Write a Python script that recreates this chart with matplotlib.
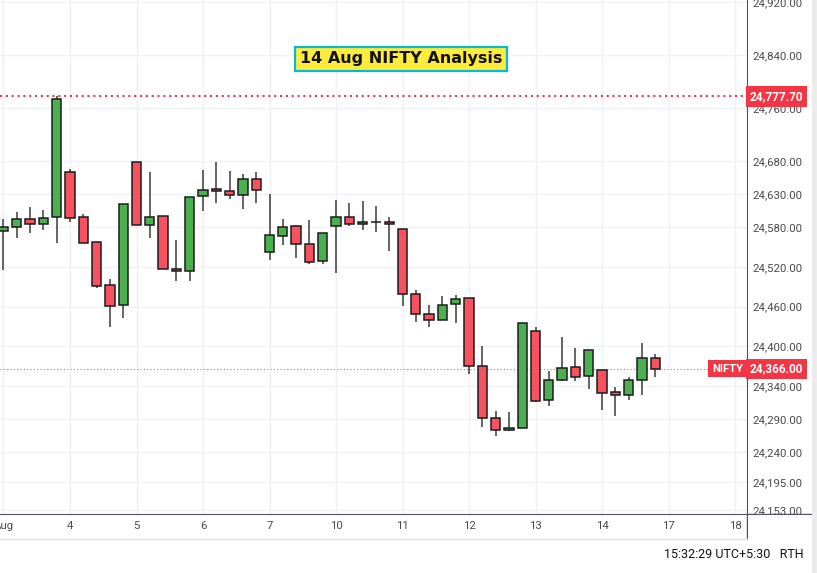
import numpy as np
import matplotlib.pyplot as plt
from matplotlib.lines import Line2D
from matplotlib.patches import Rectangle

# 75 min candles of NIFTY
opens = [24574.7, 24579.8, 24591.9, 24584.3, 24594.9, 24662.9, 24594.9, 24558.1, 24492.7, 24462.9,
         24678.0, 24582.8, 24596.4, 24516.4, 24513.4, 24627.5, 24637.2, 24634.2, 24629.0, 24652.3,
         24542.1, 24566.2, 24581.3, 24554.1, 24528.5, 24581.3, 24594.9, 24584.8, 24588.3, 24588.3,
         24577.3, 24479.1, 24448.4, 24439.8, 24464.3, 24472.6, 24370.4, 24292.3, 24274.2, 24277.2,
         24423.7, 24319.0, 24348.8, 24369.3, 24355.7, 24363.9, 24331.1, 24327.0, 24348.8, 24382.9]
highs = [24592.3, 24603.4, 24610.5, 24605.9, 24777.7, 24667.4, 24599.4, 24558.1, 24501.7, 24615.0,
         24678.0, 24663.3, 24596.4, 24560.2, 24625.1, 24666.3, 24678.4, 24664.8, 24660.3, 24663.3,
         24630.8, 24592.3, 24583.3, 24591.3, 24570.8, 24621.0, 24616.0, 24619.5, 24611.5, 24595.4,
         24577.3, 24485.1, 24462.5, 24476.1, 24477.1, 24472.6, 24400.6, 24302.0, 24300.5, 24435.8,
         24429.3, 24362.8, 24414.2, 24397.1, 24395.0, 24363.9, 24338.2, 24353.3, 24405.6, 24388.5]
lows = [24515.3, 24563.2, 24571.2, 24576.2, 24555.7, 24588.3, 24555.7, 24488.6, 24428.8, 24443.3,
        24582.8, 24563.2, 24516.4, 24499.2, 24499.2, 24604.9, 24616.9, 24623.0, 24607.9, 24616.0,
        24530.4, 24553.5, 24533.0, 24524.0, 24524.0, 24511.3, 24582.2, 24575.3, 24572.7, 24544.5,
        24461.4, 24437.3, 24429.7, 24439.8, 24435.8, 24357.9, 24277.8, 24264.2, 24272.7, 24277.2,
        24315.6, 24310.4, 24347.3, 24348.2, 24336.1, 24303.5, 24295.4, 24318.6, 24326.6, 24353.8]
closes = [24580.7, 24591.9, 24585.2, 24593.4, 24773.0, 24593.9, 24555.7, 24491.6, 24461.4, 24615.0,
          24582.8, 24594.9, 24516.4, 24513.4, 24625.1, 24635.7, 24634.2, 24629.0, 24652.3, 24635.7,
          24567.7, 24579.8, 24554.1, 24527.0, 24570.8, 24594.9, 24584.3, 24588.3, 24588.0, 24584.3,
          24479.1, 24448.4, 24439.8, 24462.0, 24471.1, 24370.4, 24292.3, 24274.2, 24277.2, 24435.8,
          24318.0, 24348.8, 24367.8, 24354.2, 24395.0, 24330.0, 24326.1, 24348.8, 24382.9, 24366.0]

day_pos = [0, 5, 10, 15, 20, 25, 30, 35, 40, 45, 50, 55]
day_labels = ["Aug", "4", "5", "6", "7", "10", "11", "12", "13", "14", "17", "18"]
price_ticks = [24153, 24195, 24240, 24290, 24340, 24400, 24460, 24520, 24580, 24630, 24680, 24760, 24840, 24920]
high_mark = 24777.70
last_price = 24366.00

W, H = 817, 573
fig = plt.figure(figsize=(W / 100, H / 100), dpi=100)
ax = fig.add_axes([0, (H - 514) / H, 747 / W, 514 / H])

green = "#4caf50"
red = "#f7525f"
o = np.array(opens); c = np.array(closes)
x = np.arange(len(o))
cols = [green if cc >= oo else red for oo, cc in zip(o, c)]

ax.vlines(x, lows, highs, color="#3a3a3a", lw=1.1, zorder=2)
hgt = np.maximum(np.abs(c - o), 0.4)
ax.bar(x, hgt, bottom=np.minimum(o, c), width=0.7, color=cols,
       edgecolor="#1c1c1c", linewidth=1.1, zorder=3)

ax.axhline(high_mark, color="#f23645", lw=1.5, dashes=(1, 1.8), zorder=1)
ax.axhline(last_price, color="#e06070", lw=0.8, dashes=(1, 2), zorder=1)

ax.set_xlim(-0.263, 55.9)
ax.set_ylim(24146.9, 24923)
ax.set_xticks(day_pos)
ax.set_xticklabels(day_labels)
ax.set_yticks(price_ticks)
ax.set_yticklabels(["{:,.2f}".format(p) for p in price_ticks])
ax.yaxis.tick_right()
ax.tick_params(axis="y", length=0, pad=4, labelsize=8.2, labelcolor="#4a4a4a")
ax.tick_params(axis="x", length=0, pad=5, labelsize=8.2, labelcolor="#4a4a4a")
for lab in ax.get_xticklabels() + ax.get_yticklabels():
    lab.set_fontfamily("Roboto")
ax.grid(True, color="#eef1f6", lw=1)
ax.set_axisbelow(True)
for s in ["top", "left"]:
    ax.spines[s].set_visible(False)
ax.spines["bottom"].set_color("#50535e")
ax.spines["right"].set_color("#50535e")

# frame lines outside the plot
fig.add_artist(Line2D([747 / W, 1], [(H - 514) / H] * 2, color="#50535e", lw=1))
fig.add_artist(Line2D([747 / W] * 2, [(H - 539) / H, (H - 514) / H], color="#50535e", lw=1))
fig.add_artist(Line2D([0, 1], [(H - 539) / H] * 2, color="#e0e3eb", lw=1))
fig.patches.append(Rectangle((748 / W, 0), 70 / W, (H - 515) / H, transform=fig.transFigure,
                             facecolor="white", edgecolor="none", zorder=2))
fig.patches.append(Rectangle((812 / W, 0), 5 / W, 1, transform=fig.transFigure,
                             facecolor="#ececec", edgecolor="none", zorder=2))

# price labels on the axis
def ytofig(p):
    return ax.transData.transform((0, p))[1] / H

box = dict(boxstyle="square,pad=0.32", fc="#f23645", ec="none")
fig.text(750 / W, ytofig(high_mark), "24,777.70", color="white", fontsize=8.5, fontweight="bold",
         family="Roboto", va="center", ha="left", bbox=box, zorder=5)
fig.text(750 / W, ytofig(last_price), "24,366.00", color="white", fontsize=8.5, fontweight="bold",
         family="Roboto", va="center", ha="left", bbox=box, zorder=5)
fig.text(743 / W, ytofig(last_price), "NIFTY", color="white", fontsize=8, fontweight="bold",
         family="Roboto", va="center", ha="right", bbox=box, zorder=5)

# title
fig.text(401 / W, (H - 59) / H, "14 Aug NIFTY Analysis", fontsize=11.5, fontweight="bold",
         color="#111111", ha="center", va="center", zorder=5,
         bbox=dict(boxstyle="square,pad=0.3", fc="#ffeb3b", ec="#00bcd4", lw=1.6))

# settings icon and footer
fig.add_artist(Line2D([777 / W], [(H - 527) / H], marker="H", ms=11, mfc="none", mec="#222222", mew=1.2))
fig.add_artist(Line2D([777 / W], [(H - 527) / H], marker="o", ms=4, mfc="none", mec="#222222", mew=1.1))
fig.text(803 / W, (H - 555) / H, "15:32:29 UTC+5:30   RTH", fontsize=9, family="Roboto",
         color="#111111", ha="right", va="center")

fig.savefig("out.png", dpi=100)
